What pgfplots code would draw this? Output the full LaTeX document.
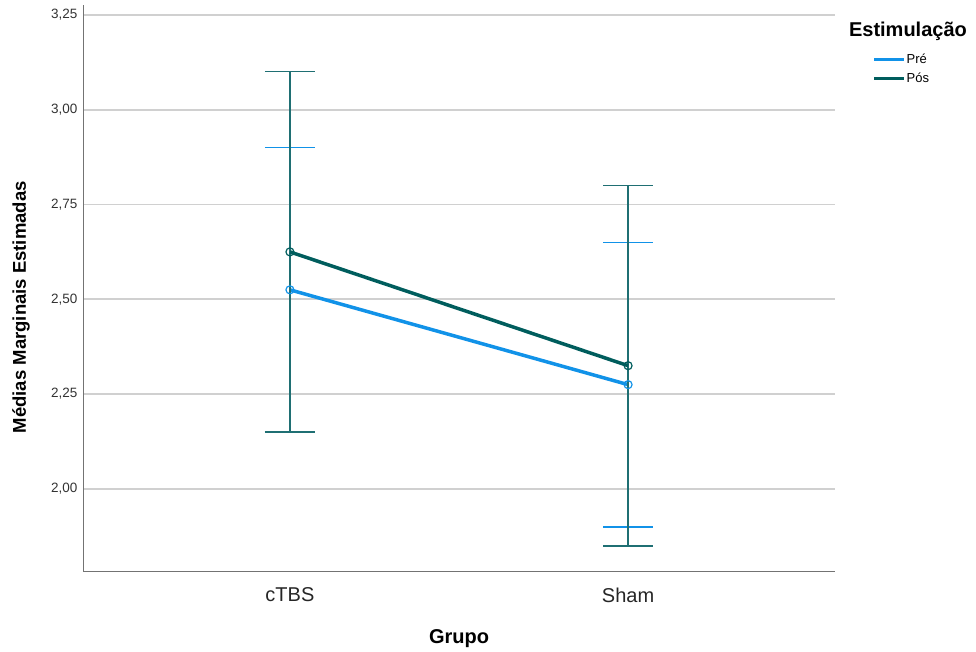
\documentclass[border=0pt]{standalone}
\usepackage{pgfplots}
\pgfplotsset{compat=1.18}
\usepackage{fontspec}
\setmainfont{Liberation Sans}
\definecolor{pre}{HTML}{1192E8}
\definecolor{pos}{HTML}{005D5D}
\definecolor{posbar}{HTML}{1F6F73}
\definecolor{gridc}{HTML}{D0D0D0}
\begin{document}
\begin{tikzpicture}
\useasboundingbox (0,0) rectangle (976pt,652pt);
\begin{axis}[
  at={(83pt,80pt)}, anchor=south west,
  scale only axis, width=752pt, height=567pt,
  clip=false,
  xmin=-0.612, xmax=1.612,
  ymin=1.781, ymax=3.276,
  unbounded coords=jump,
  axis x line*=bottom, axis y line*=left,
  axis line style={draw=black!55, line width=1pt, -},
  xtick={0,1}, xticklabels={cTBS,Sham},
  ytick={2,2.25,2.5,2.75,3,3.25},
  major tick length=0pt,
  ymajorgrids, grid style={draw=gridc, line width=1.8pt},
  yticklabel style={font=\fontsize{13.5}{15}\selectfont, text=black!80, xshift=-2pt},
  xticklabel style={font=\fontsize{20}{22}\selectfont, text=black!85, yshift=-12pt},
  /pgf/number format/.cd, fixed, fixed zerofill, precision=2, use comma, assume math mode=true,
  /pgfplots/.cd,
  xlabel={\textbf{Grupo}}, xlabel style={font=\fontsize{20}{22}\selectfont, at={(axis description cs:0.5,-0.118)}, anchor=center},
  ylabel={\textbf{Médias Marginais Estimadas}}, ylabel style={font=\fontsize{18.5}{21}\selectfont, at={(axis description cs:-0.0825,0.467)}, anchor=center, rotate=0},
  legend style={at={(1.0498,0.916)}, anchor=north west, draw=none, fill=none,
    font=\fontsize{13}{15}\selectfont, row sep=6pt, inner sep=0pt,
    nodes={inner sep=1pt}},
  legend cell align=left,
  legend image code/.code={\draw[line width=3pt] (0pt,0pt) -- (30pt,0pt);},
]
% Pré: 95% CI bars (lower, upper)
\addplot[forget plot, draw=pre, line width=1.5pt] coordinates {
  (-0.074,2.90) (0.074,2.90) (0,nan) (0,2.90) (0,2.15) (0,nan) (-0.074,2.15) (0.074,2.15) (0,nan)
  (0.926,2.65) (1.074,2.65) (1,nan) (1,2.65) (1,1.90) (1,nan) (0.926,1.90) (1.074,1.90)};
\addplot[color=pre, line width=3.5pt, mark=o, mark size=4pt,
  mark options={line width=1.2pt, solid}]
  coordinates {(0,2.525) (1,2.275)};
\addlegendentry{Pré}
% Pós: 95% CI bars
\addplot[forget plot, draw=posbar, line width=1.5pt] coordinates {
  (-0.074,3.10) (0.074,3.10) (0,nan) (0,3.10) (0,2.15) (0,nan) (-0.074,2.15) (0.074,2.15) (0,nan)
  (0.926,2.80) (1.074,2.80) (1,nan) (1,2.80) (1,1.85) (1,nan) (0.926,1.85) (1.074,1.85)};
\addplot[color=pos, line width=3.5pt, mark=o, mark size=4pt,
  mark options={line width=1.2pt, solid}]
  coordinates {(0,2.625) (1,2.325)};
\addlegendentry{Pós}
\node[font=\bfseries\fontsize{20}{22}\selectfont, anchor=center] at (rel axis cs:1.097,0.954) {Estimulação};
\end{axis}
\end{tikzpicture}
\end{document}
